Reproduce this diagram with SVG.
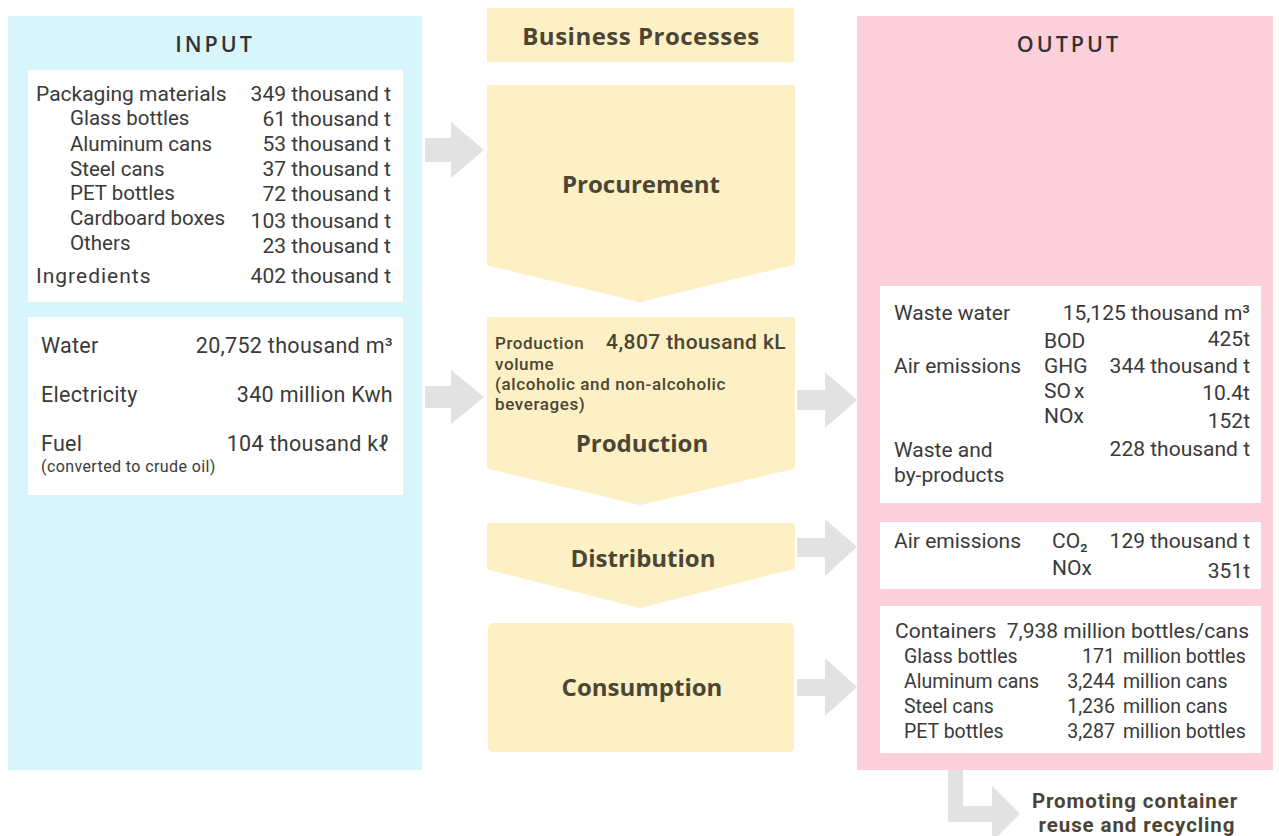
<svg xmlns="http://www.w3.org/2000/svg" width="1279" height="836" viewBox="0 0 1279 836">
<style>
.t{font-family:Roboto,"Open Sans","Liberation Sans",sans-serif;font-size:21px;fill:#3a3a3a}
.sub{font-size:20.5px}
.w{font-size:21.5px;letter-spacing:0.3px}
.c{font-size:19.5px}
.s{font-size:16px;letter-spacing:0.4px}
.e{text-anchor:end}
.h{font-family:"Open Sans","Liberation Sans",sans-serif;font-size:21.5px;font-weight:600;letter-spacing:3px;fill:#333;text-anchor:middle}
.b{font-family:"Open Sans","Liberation Sans",sans-serif;font-weight:700;font-size:24px;fill:#4a4535;text-anchor:middle}
.pb{font-family:Roboto,"Open Sans","Liberation Sans",sans-serif;font-weight:500;font-size:17px;letter-spacing:0.6px;fill:#4a4535}
.big{font-size:21px;letter-spacing:0.4px}
.rec{font-family:Roboto,"Open Sans","Liberation Sans",sans-serif;font-weight:700;font-size:20.5px;fill:#4a4535;text-anchor:middle;letter-spacing:0.9px}
.wb{fill:#ffffff}
.proc{fill:#fdf0c4;stroke:#fdf0c4;stroke-width:4;stroke-linejoin:round}
.arr{fill:#e2e2e2}
</style>
<rect width="1279" height="836" fill="#ffffff"/>
<g id="input">
<rect x="8" y="16" width="414" height="754" fill="#d8f5fb"/>
<text class="h" x="215" y="52">INPUT</text>
<rect class="wb" x="28" y="70" width="375" height="232"/>
<text class="t" x="36" y="101">Packaging materials</text><text class="t e" x="391" y="101">349 thousand t</text>
<text class="t sub" x="70" y="125">Glass bottles</text><text class="t e" x="391" y="126">61 thousand t</text>
<text class="t sub" x="70" y="151">Aluminum cans</text><text class="t e" x="391" y="151">53 thousand t</text>
<text class="t sub" x="70" y="176">Steel cans</text><text class="t e" x="391" y="176">37 thousand t</text>
<text class="t sub" x="70" y="200">PET bottles</text><text class="t e" x="391" y="201">72 thousand t</text>
<text class="t sub" x="70" y="225">Cardboard boxes</text><text class="t e" x="391" y="228">103 thousand t</text>
<text class="t sub" x="70" y="250">Others</text><text class="t e" x="391" y="253">23 thousand t</text>
<text class="t" x="36" y="283" letter-spacing="1">Ingredients</text><text class="t e" x="391" y="283">402 thousand t</text>
<rect class="wb" x="28" y="317" width="375" height="178"/>
<text class="t w" x="41" y="353">Water</text><text class="t w e" x="393" y="353">20,752 thousand m³</text>
<text class="t w" x="41" y="402" letter-spacing="0.5">Electricity</text><text class="t w e" x="393" y="402">340 million Kwh</text>
<text class="t w" x="41" y="451">Fuel</text><text class="t w e" x="389" y="451">104 thousand kℓ</text>
<text class="t s" x="41" y="472">(converted to crude oil)</text>
</g>
<g id="business-processes">
<rect x="487" y="8" width="307" height="54" fill="#fdf0c4"/>
<text class="b" x="641" y="45" letter-spacing="0.5">Business Processes</text>
</g>
<g id="procurement">
<path class="proc" d="M489,87 H793 V263 L640,300 L489,264 Z"/>
<text class="b" x="641" y="193">Procurement</text>
</g>
<g id="production">
<path class="proc" d="M489,319 H793 V467 L640,503 L489,467 Z"/>
<text class="pb" x="495" y="349">Production</text>
<text class="pb big e" x="786" y="349">4,807 thousand kL</text>
<text class="pb" x="495" y="370">volume</text>
<text class="pb" x="495" y="390">(alcoholic and non-alcoholic</text>
<text class="pb" x="495" y="410">beverages)</text>
<text class="b" x="642" y="452">Production</text>
</g>
<g id="distribution">
<path class="proc" d="M489,525 H793 V567 L640,606 L489,568 Z"/>
<text class="b" x="643" y="567">Distribution</text>
</g>
<g id="consumption">
<rect x="488" y="623" width="306" height="129" rx="5" fill="#fdf0c4"/>
<text class="b" x="642" y="696">Consumption</text>
</g>
<g id="output">
<rect x="857" y="16" width="416" height="754" fill="#fbd0da"/>
<text class="h" x="1069" y="52">OUTPUT</text>
<rect class="wb" x="880" y="286" width="381" height="217"/>
<text class="t" x="894" y="320">Waste water</text><text class="t e" x="1250" y="320">15,125 thousand m³</text>
<text class="t" x="1044" y="348">BOD</text><text class="t e" x="1250" y="346">425t</text>
<text class="t" x="894" y="373">Air emissions</text><text class="t" x="1044" y="373">GHG</text><text class="t e" x="1250" y="373">344 thousand t</text>
<text class="t" x="1044" y="398">SO<tspan dx="3">x</tspan></text><text class="t e" x="1250" y="400">10.4t</text>
<text class="t" x="1044" y="423">NOx</text><text class="t e" x="1250" y="428">152t</text>
<text class="t" x="894" y="457">Waste and</text><text class="t e" x="1250" y="456">228 thousand t</text>
<text class="t" x="894" y="482">by-products</text>
<rect class="wb" x="880" y="522" width="381" height="67"/>
<text class="t" x="894" y="548">Air emissions</text><text class="t" x="1052" y="548">CO₂</text><text class="t e" x="1250" y="548">129 thousand t</text>
<text class="t" x="1052" y="575">NOx</text><text class="t e" x="1250" y="578">351t</text>
<rect class="wb" x="880" y="606" width="381" height="147"/>
<text class="t" x="895" y="638">Containers</text><text class="t e" x="1249" y="638">7,938 million bottles/cans</text>
<text class="t c" x="904" y="663">Glass bottles</text><text class="t c e" x="1115" y="663">171</text><text class="t c" x="1123" y="663">million bottles</text>
<text class="t c" x="904" y="688">Aluminum cans</text><text class="t c e" x="1115" y="688">3,244</text><text class="t c" x="1123" y="688">million cans</text>
<text class="t c" x="904" y="713">Steel cans</text><text class="t c e" x="1115" y="713">1,236</text><text class="t c" x="1123" y="713">million cans</text>
<text class="t c" x="904" y="738">PET bottles</text><text class="t c e" x="1115" y="738">3,287</text><text class="t c" x="1123" y="738">million bottles</text>
</g>
<g id="recycling">
<text class="rec" x="1135" y="808">Promoting container</text>
<text class="rec" x="1137" y="832">reuse and recycling</text>
</g>
<g id="connectors">
<polygon class="arr" points="425,138 451,138 451,122 484,150 451,178 451,162 425,162"/>
<polygon class="arr" points="425,386 451,386 451,370 484,397 451,424 451,408 425,408"/>
<polygon class="arr" points="797,390 825,390 825,372 857,400 825,428 825,410 797,410"/>
<polygon class="arr" points="797,538 825,538 825,519 857,547 825,576 825,557 797,557"/>
<polygon class="arr" points="797,679 825,679 825,658 857,687 825,716 825,696 797,696"/>
<polygon class="arr" points="948,770 963,770 963,806 992,806 992,786 1020,814 992,842 992,822 948,822"/>
</g>
</svg>
